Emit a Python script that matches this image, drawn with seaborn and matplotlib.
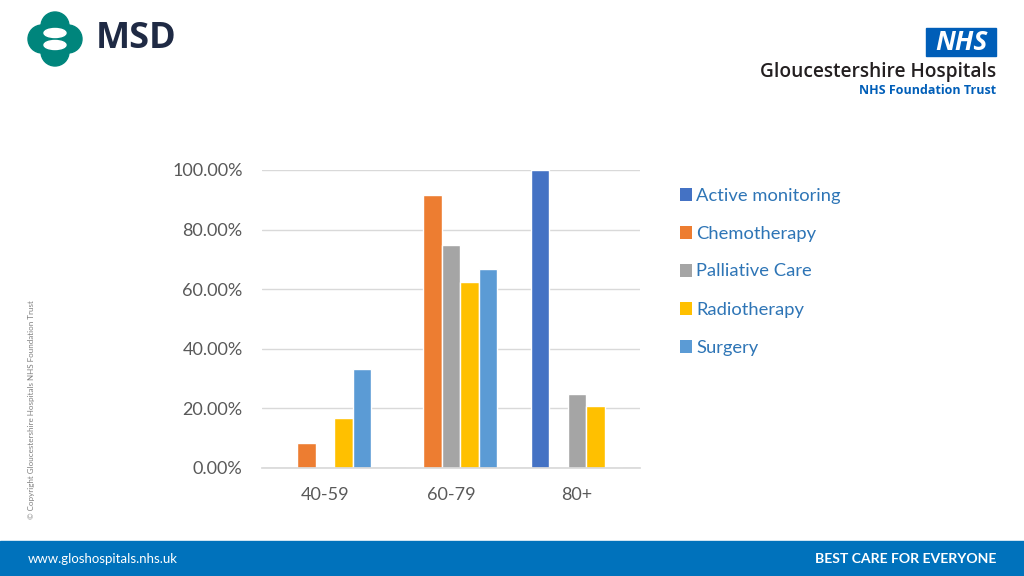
import pandas as pd
import matplotlib
import matplotlib.pyplot as plt
import seaborn as sns
from matplotlib.patches import Patch, Rectangle, Ellipse
from matplotlib.ticker import PercentFormatter

matplotlib.use('Agg')

# data
age_groups = ['40-59', '60-79', '80+']
treatments = ['Active monitoring', 'Chemotherapy', 'Palliative Care', 'Radiotherapy', 'Surgery']
active_monitoring = [0.0, 0.0, 1.0]
chemotherapy = [0.0833, 0.9167, 0.0]
palliative_care = [0.0, 0.75, 0.25]
radiotherapy = [0.1667, 0.625, 0.2083]
surgery = [0.3333, 0.6667, 0.0]
colors = ['#4472C4', '#ED7D31', '#A5A5A5', '#FFC000', '#5B9BD5']

series = [active_monitoring, chemotherapy, palliative_care, radiotherapy, surgery]
rows = []
for name, vals in zip(treatments, series):
    for grp, v in zip(age_groups, vals):
        rows.append({'age': grp, 'treatment': name, 'share': v})
df = pd.DataFrame(rows)

sns.set_theme(style='white')
plt.rcParams['font.family'] = ['Lato', 'DejaVu Sans']

fig = plt.figure(figsize=(10.24, 5.76), dpi=100)
ax = fig.add_axes([262 / 1024, 1 - 468 / 576, 378 / 1024, 298 / 576])

sns.barplot(data=df, x='age', y='share', hue='treatment', hue_order=treatments,
            palette=colors, width=0.73, saturation=1, ax=ax, legend=False)

ax.set_ylim(0, 1.0)
ax.set_xlim(-0.5, 2.5)
ax.set_yticks([0, 0.2, 0.4, 0.6, 0.8, 1.0])
ax.yaxis.set_major_formatter(PercentFormatter(1.0, decimals=2))
ax.grid(axis='y', color='#D9D9D9', linewidth=1)
ax.set_axisbelow(True)
for s in ['top', 'right', 'left']:
    ax.spines[s].set_visible(False)
ax.spines['bottom'].set_color('#D9D9D9')
ax.tick_params(axis='y', labelsize=13, colors='#595959', pad=14, length=0)
ax.tick_params(axis='x', labelsize=13, colors='#595959', pad=14, length=0)
ax.set_xlabel('')
ax.set_ylabel('')

# legend on the right
handles = [Patch(facecolor=c, edgecolor='none') for c in colors]
leg = fig.legend(handles, treatments, loc='upper left', bbox_to_anchor=(663 / 1024, 1 - 171 / 576),
                 frameon=False, fontsize=13.2, labelspacing=1.2, handlelength=0.7,
                 handleheight=0.7, handletextpad=0.2)
for t in leg.get_texts():
    t.set_color('#2E75B6')

# MSD logo
teal = '#00857C'
lx, ly = 55, 39
for dx, dy in [(0, -13), (0, 13), (-13, 0), (13, 0)]:
    fig.patches.append(Ellipse(((lx + dx) / 1024, 1 - (ly + dy) / 576), 28 / 1024, 28 / 576,
                               transform=fig.transFigure, color=teal))
fig.patches.append(Ellipse((lx / 1024, 1 - (ly - 6) / 576), 22 / 1024, 9 / 576,
                           transform=fig.transFigure, color='white'))
fig.patches.append(Ellipse((lx / 1024, 1 - (ly + 6) / 576), 22 / 1024, 9 / 576,
                           transform=fig.transFigure, color='white'))
fig.text(96 / 1024, 1 - 39 / 576, 'MSD', fontsize=26, fontweight='bold', color='#1F2A44',
         va='center', ha='left', family=['Open Sans', 'DejaVu Sans'])

# NHS logo
fig.patches.append(Rectangle((926 / 1024, 1 - 56 / 576), 70 / 1024, 28 / 576,
                             transform=fig.transFigure, color='#005EB8'))
fig.text(961 / 1024, 1 - 42 / 576, 'NHS', fontsize=19, fontweight='bold', style='italic',
         color='white', ha='center', va='center', family=['Open Sans', 'DejaVu Sans'])
fig.text(996 / 1024, 1 - 72 / 576, 'Gloucestershire Hospitals', fontsize=13.8, fontweight='semibold',
         color='#231F20', ha='right', va='center', family=['Open Sans', 'DejaVu Sans'])
fig.text(996 / 1024, 1 - 91 / 576, 'NHS Foundation Trust', fontsize=9, fontweight='bold',
         color='#005EB8', ha='right', va='center', family=['Open Sans', 'DejaVu Sans'])

# copyright side text
fig.text(32 / 1024, 1 - 410 / 576, '\u00a9 Copyright Gloucestershire Hospitals NHS Foundation Trust',
         fontsize=5.8, color='#7F7F7F', rotation=90, ha='center', va='center')

# footer bar
fig.patches.append(Rectangle((0, 0), 1, 35 / 576, transform=fig.transFigure, color='#0072BC'))
fig.text(28 / 1024, 17 / 576, 'www.gloshospitals.nhs.uk', fontsize=9.5, color='white',
         ha='left', va='center')
fig.text(996 / 1024, 17 / 576, 'BEST CARE FOR EVERYONE', fontsize=10.1, fontweight='bold',
         color='white', ha='right', va='center')

plt.savefig('out.png', dpi=100)
